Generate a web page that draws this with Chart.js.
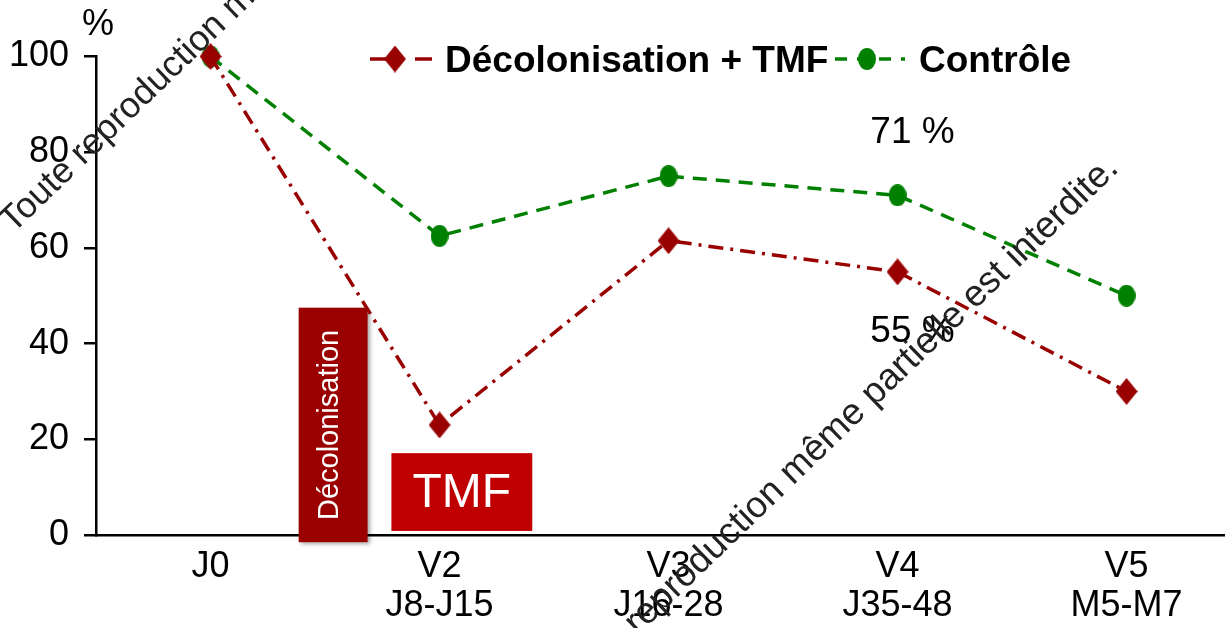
<!DOCTYPE html>
<html>
<head>
<meta charset="utf-8">
<script src="https://cdn.jsdelivr.net/npm/chart.js@4.4.0/dist/chart.umd.min.js"></script>
<style>
  html, body { margin: 0; padding: 0; background: #fff; overflow: hidden; }
  #wrap { position: relative; width: 1225px; height: 628px; }
</style>
</head>
<body>
<div id="wrap"><canvas id="c" width="1225" height="628"></canvas></div>
<script>
// Visits (two-line tick labels) and the two study arms, in %
const categories = [["J0"], ["V2", "J8-J15"], ["V3", "J16-28"], ["V4", "J35-48"], ["V5", "M5-M7"]];
const seriesNames = ["Décolonisation + TMF", "Contrôle"];
const decolTmf = [100, 23, 61.5, 55, 30];
const controle = [100, 62.5, 75, 71, 50];
const yTicks = [0, 20, 40, 60, 80, 100];
// Value callouts: which series / visit they describe
const valueLabels = [
  { series: 1, index: 3, text: "71 %" },
  { series: 0, index: 3, text: "55 %" }
];

const FONT = "'Liberation Sans', Arial, Helvetica, sans-serif";
const RED = '#990000';
const GREEN = '#008000';

// Marker images (slightly taller than wide)
function diamondMarker(w, h, color) {
  const c = document.createElement('canvas');
  c.width = w; c.height = h;
  const g = c.getContext('2d');
  g.fillStyle = color;
  g.beginPath();
  g.moveTo(w / 2, 0); g.lineTo(w, h / 2); g.lineTo(w / 2, h); g.lineTo(0, h / 2);
  g.closePath(); g.fill();
  return c;
}
function ellipseMarker(w, h, color) {
  const c = document.createElement('canvas');
  c.width = w; c.height = h;
  const g = c.getContext('2d');
  g.fillStyle = color;
  g.beginPath();
  g.ellipse(w / 2, h / 2, w / 2, h / 2, 0, 0, Math.PI * 2);
  g.fill();
  return c;
}
const redMark = diamondMarker(22, 27, RED);
const greenMark = ellipseMarker(18, 22, GREEN);

const styles = [
  { color: RED, dash: [15, 7, 3, 7], mark: redMark },
  { color: GREEN, dash: [14, 9], mark: greenMark }
];

// Treatment phases drawn as labelled blocks (x in visit units, y in %)
const phaseBoxes = [
  { text: 'Décolonisation', x0: 0.385, x1: 0.686, y0: -1.5, y1: 47.5, fill: '#9A0000', vertical: true, size: 29 },
  { text: 'TMF', x0: 0.79, x1: 1.405, y0: 0.85, y1: 17.1, fill: '#C00000', vertical: false, size: 48 }
];

const decor = {
  id: 'decor',
  beforeDatasetsDraw(chart) {
    const { ctx, scales: { x, y } } = chart;
    phaseBoxes.forEach(b => {
      const L = x.getPixelForValue(b.x0), R = x.getPixelForValue(b.x1);
      const T = y.getPixelForValue(b.y1), B = y.getPixelForValue(b.y0);
      ctx.save();
      if (b.vertical) {
        ctx.shadowColor = 'rgba(0,0,0,0.35)';
        ctx.shadowBlur = 4; ctx.shadowOffsetX = 2; ctx.shadowOffsetY = 2;
      }
      ctx.fillStyle = b.fill;
      ctx.fillRect(L, T, R - L, B - T);
      ctx.restore();
      ctx.save();
      ctx.fillStyle = '#fff';
      ctx.font = b.size + 'px ' + FONT;
      ctx.textAlign = 'center';
      ctx.textBaseline = 'middle';
      if (b.vertical) {
        ctx.translate((L + R) / 2 - 3, (T + B) / 2);
        ctx.rotate(-Math.PI / 2);
        ctx.fillText(b.text, 0, 0);
      } else {
        ctx.fillText(b.text, (L + R) / 2, (T + B) / 2 + 2);
      }
      ctx.restore();
    });
  },
  afterDraw(chart) {
    const { ctx, chartArea, scales: { x, y } } = chart;
    ctx.save();
    // unit above the value axis
    ctx.fillStyle = '#000';
    ctx.font = '36px ' + FONT;
    ctx.textAlign = 'center';
    ctx.textBaseline = 'middle';
    ctx.fillText('%', chartArea.left + 2, chartArea.top - 31);

    // value callouts next to V4
    ctx.font = '37px ' + FONT;
    const offsets = [-62, 60];
    valueLabels.forEach((v, k) => {
      const vals = v.series === 0 ? decolTmf : controle;
      const px = x.getPixelForValue(v.index) + 15;
      const py = y.getPixelForValue(vals[v.index]) + offsets[k];
      ctx.fillText(v.text, px, py);
    });

    // legend: dashed sample with marker, then bold name
    ctx.font = 'bold 37px ' + FONT;
    ctx.textAlign = 'left';
    ctx.textBaseline = 'alphabetic';
    const legendItems = [
      { x0: 370, x1: 432, mx: 395, tx: 445 },
      { x0: 835, x1: 905, mx: 867, tx: 919 }
    ];
    const ly = 59;
    legendItems.forEach((it, i) => {
      const s = styles[i];
      ctx.strokeStyle = s.color;
      ctx.lineWidth = 3.5;
      ctx.setLineDash(i === 0 ? [20, 25, 17, 0] : [12, 10]);
      ctx.beginPath();
      ctx.moveTo(it.x0, ly); ctx.lineTo(it.x1, ly);
      ctx.stroke();
      ctx.setLineDash([]);
      ctx.drawImage(s.mark, it.mx - s.mark.width / 2, ly - s.mark.height / 2);
      ctx.fillStyle = '#000';
      ctx.fillText(seriesNames[i], it.tx, ly + 13);
    });

    // copyright notice across the figure
    ctx.fillStyle = '#222';
    ctx.font = '36px ' + FONT;
    ctx.save();
    ctx.translate(13, 234);
    ctx.rotate(-44 * Math.PI / 180);
    ctx.textAlign = 'left';
    ctx.fillText('Toute reproduction même partielle est interdite.', 0, 0);
    ctx.restore();
    ctx.font = '37px ' + FONT;
    ctx.save();
    ctx.translate(1120, 170);
    ctx.rotate(-44 * Math.PI / 180);
    ctx.textAlign = 'right';
    ctx.fillText('Toute reproduction même partielle est interdite.', 0, 0);
    ctx.restore();
    ctx.restore();
  }
};

const mkData = arr => arr.map((v, i) => ({ x: i, y: v }));

new Chart(document.getElementById('c'), {
  type: 'line',
  data: {
    datasets: [decolTmf, controle].map((arr, i) => ({
      label: seriesNames[i],
      data: mkData(arr),
      borderColor: styles[i].color,
      backgroundColor: styles[i].color,
      borderWidth: 3.5,
      borderDash: styles[i].dash,
      pointStyle: styles[i].mark,
      pointRadius: 11,
      tension: 0,
      clip: false
    }))
  },
  options: {
    responsive: false,
    animation: false,
    events: [],
    layout: { autoPadding: false, padding: { top: 56.5, right: 0, bottom: 0, left: 0 } },
    plugins: { legend: { display: false }, tooltip: { enabled: false } },
    scales: {
      x: {
        type: 'linear',
        min: -0.5,
        max: 4.43,
        afterBuildTicks: a => { a.ticks = categories.map((_, i) => ({ value: i })); },
        ticks: {
          callback: v => categories[v],
          font: { family: FONT, size: 36, lineHeight: 1.1 },
          color: '#000',
          padding: 12,
          maxRotation: 0,
          autoSkip: false
        },
        grid: { display: false, drawTicks: false },
        border: { color: '#000', width: 2.5 },
        afterFit: s => { s.height = 93; s.paddingLeft = 0; s.paddingRight = 0; }
      },
      y: {
        min: 0,
        max: 100,
        afterBuildTicks: a => { a.ticks = yTicks.map(v => ({ value: v })); },
        ticks: { font: { family: FONT, size: 36 }, color: '#000', padding: 15 },
        grid: { drawOnChartArea: false, drawTicks: true, tickLength: 12, color: '#000', lineWidth: 2.5 },
        border: { color: '#000', width: 2.5 },
        afterFit: s => { s.width = 96; }
      }
    }
  },
  plugins: [decor]
});
</script>
</body>
</html>
